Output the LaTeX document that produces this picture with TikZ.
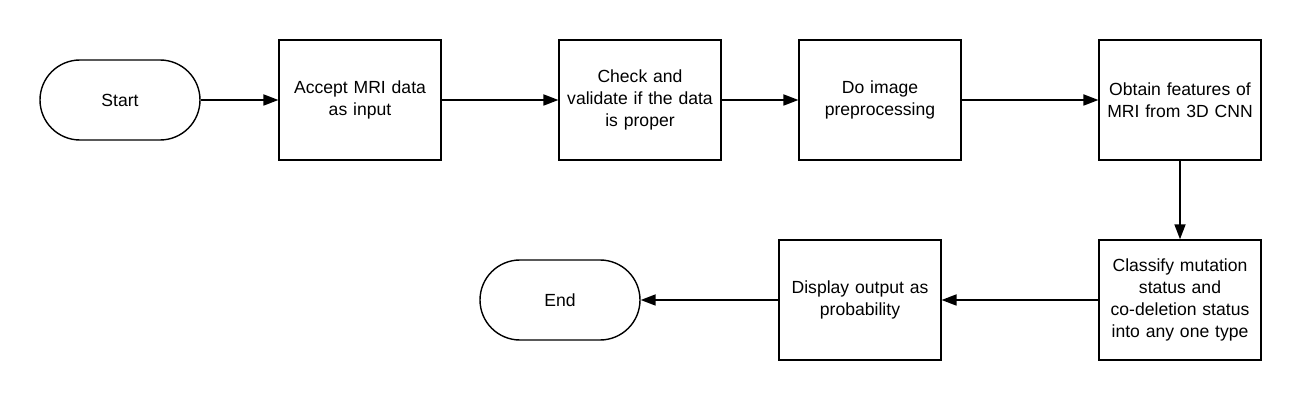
\documentclass[tikz,border=0pt]{standalone}
\usepackage{fontspec}
\setmainfont{Liberation Sans}
\usetikzlibrary{arrows.meta}

\begin{document}
\begin{tikzpicture}[
	terminal/.style={draw, line width=0.8pt, rectangle, rounded corners=0.8cm, minimum width=3.2cm, minimum height=1.6cm, font=\fontsize{10}{12.5}\selectfont},
	process/.style={draw, line width=0.8pt, rectangle, minimum width=3.2cm, minimum height=2.4cm, text width=3cm, align=center, font=\fontsize{10}{12.5}\selectfont},
	flow/.style={line width=1pt, -{Triangle[length=0.3cm, width=0.22cm]}}
]
	\useasboundingbox (0,0) rectangle (26,-8);

	\node at (2.4,-2) [terminal] (start) {Start};
	\node at (7.2,-2) [process] (accept) {Accept MRI data\\as input};
	\node at (12.8,-2) [process] (check) {Check and\\validate if the data\\is proper};
	\node at (17.6,-2) [process] (prep) {Do image\\preprocessing};
	\node at (23.6,-2) [process] (feat) {Obtain features of\\MRI from 3D CNN};
	\node at (23.6,-6) [process] (classify) {Classify mutation\\status and\\co-deletion status\\into any one type};
	\node at (17.2,-6) [process] (display) {Display output as\\probability};
	\node at (11.2,-6) [terminal] (end) {End};

	\draw [flow] (start) -- (accept);
	\draw [flow] (accept) -- (check);
	\draw [flow] (check) -- (prep);
	\draw [flow] (prep) -- (feat);
	\draw [flow] (feat) -- (classify);
	\draw [flow] (classify) -- (display);
	\draw [flow] (display) -- (end);
\end{tikzpicture}
\end{document}
